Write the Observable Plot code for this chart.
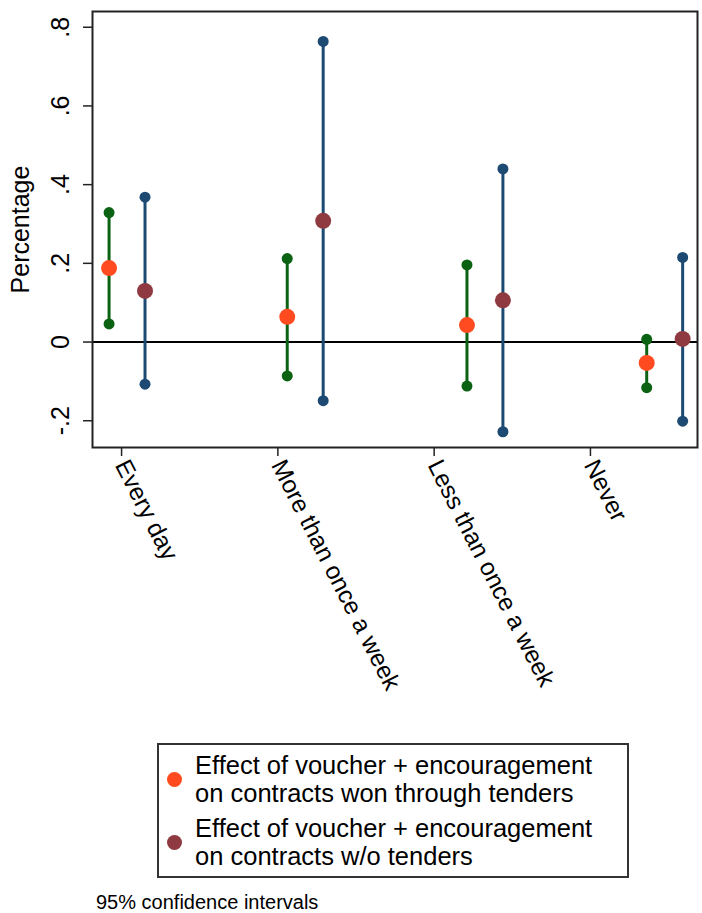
<!DOCTYPE html>
<html>
<head>
<meta charset="utf-8">
<script src="https://cdn.jsdelivr.net/npm/d3@7"></script>
<script src="https://cdn.jsdelivr.net/npm/@observablehq/plot@0.6"></script>
<style>
  html, body { margin: 0; padding: 0; background: #fff; }
  #wrap { position: relative; width: 702px; height: 913px; font-family: "Liberation Sans", Arial, Helvetica, sans-serif; color: #000; }
  #chart { position: absolute; left: 0; top: 0; }
  #legend { position: absolute; left: 157px; top: 743px; width: 468px; height: 131px; border: 2px solid #333; box-sizing: content-box; }
  .item { position: absolute; left: 36px; font-size: 25.5px; line-height: 27.7px; white-space: nowrap; }
  .mk { position: absolute; width: 15px; height: 15px; border-radius: 50%; left: 8px; }
  #caption { position: absolute; left: 96px; top: 891px; font-size: 20px; line-height: 22px; }
</style>
</head>
<body>
<div id="wrap">
  <div id="chart"></div>
  <div id="legend"></div>
  <div id="caption"></div>
</div>
<script>
// ---- data ----
const categories = ["Every day", "More than once a week", "Less than once a week", "Never"];
const categoryTicks = [1, 2, 3, 4];
const yTicks = [-0.2, 0, 0.2, 0.4, 0.6, 0.8];

// Series 1: effect on contracts won through tenders
const tenderX   = [0.92, 2.06, 3.21, 4.36];
const tenderEst = [0.188, 0.064, 0.043, -0.053];
const tenderLo  = [0.046, -0.086, -0.112, -0.116];
const tenderHi  = [0.329, 0.212, 0.196, 0.007];

// Series 2: effect on contracts without tenders
const noTenderX   = [1.15, 2.29, 3.44, 4.59];
const noTenderEst = [0.130, 0.308, 0.106, 0.008];
const noTenderLo  = [-0.107, -0.149, -0.228, -0.201];
const noTenderHi  = [0.368, 0.764, 0.440, 0.215];

const seriesLabels = [
  ["Effect of voucher + encouragement", "on contracts won through tenders"],
  ["Effect of voucher + encouragement", "on contracts w/o tenders"]
];
const captionText = "95% confidence intervals";
const yLabel = "Percentage";

// ---- styles ----
const green = "#0b6212";
const navy = "#1c4a73";
const orange = "#ff4b1f";
const maroon = "#8e3a40";

const rows = (xs, est, lo, hi) => xs.map((x, i) => ({x, est: est[i], lo: lo[i], hi: hi[i]}));
const tender = rows(tenderX, tenderEst, tenderLo, tenderHi);
const noTender = rows(noTenderX, noTenderEst, noTenderLo, noTenderHi);

const fmt = d => d === 0 ? "0" : d.toFixed(1).replace("0.", ".");

const ciMarks = (data, lineColor, pointColor) => [
  Plot.ruleX(data, {x: "x", y1: "lo", y2: "hi", stroke: lineColor, strokeWidth: 3}),
  Plot.dot(data, {x: "x", y: "lo", r: 5.5, fill: lineColor, stroke: "none"}),
  Plot.dot(data, {x: "x", y: "hi", r: 5.5, fill: lineColor, stroke: "none"}),
  Plot.dot(data, {x: "x", y: "est", r: 8, fill: pointColor, stroke: "none"})
];

const chart = Plot.plot({
  width: 702,
  height: 720,
  marginLeft: 92,
  marginRight: 5,
  marginTop: 11,
  marginBottom: 273,
  style: {fontFamily: '"Liberation Sans", Arial, Helvetica, sans-serif', color: "#000", background: "#fff"},
  x: {type: "linear", domain: [0.814, 4.685]},
  y: {domain: [-0.268, 0.840]},
  marks: [
    Plot.ruleY([0], {stroke: "#000", strokeWidth: 2}),
    ...ciMarks(tender, green, orange),
    ...ciMarks(noTender, navy, maroon),
    Plot.frame({stroke: "#222", strokeWidth: 2}),
    Plot.axisY({ticks: yTicks, tickFormat: fmt, tickSize: 9, tickPadding: 15, tickRotate: -90, fontSize: 25, label: null, stroke: "#222", strokeWidth: 1.5}),
    Plot.axisY({ticks: [], label: yLabel, labelAnchor: "center", labelArrow: "none", labelOffset: 81, fontSize: 25}),
    Plot.axisX({ticks: categoryTicks, tickFormat: d => categories[d - 1], tickSize: 9, tickPadding: 5, tickRotate: 63, fontSize: 24.5, label: null, stroke: "#222", strokeWidth: 1.5})
  ]
});
document.getElementById("chart").appendChild(chart);

// ---- legend ----
const legend = document.getElementById("legend");
const legendColors = [orange, maroon];
const itemTops = [7, 70];
seriesLabels.forEach((lines, i) => {
  const mk = document.createElement("span");
  mk.className = "mk";
  mk.style.background = legendColors[i];
  mk.style.top = (itemTops[i] + 20) + "px";
  legend.appendChild(mk);
  const it = document.createElement("div");
  it.className = "item";
  it.style.top = itemTops[i] + "px";
  it.innerHTML = lines.join("<br>");
  legend.appendChild(it);
});
document.getElementById("caption").textContent = captionText;
</script>
</body>
</html>
